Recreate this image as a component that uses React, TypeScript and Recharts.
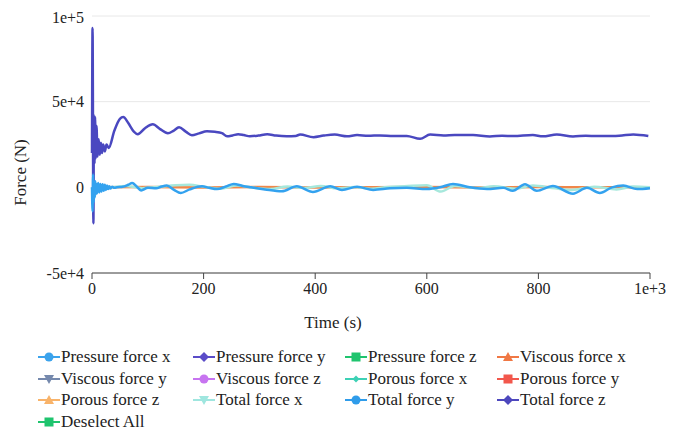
import { CartesianGrid, Line, LineChart, XAxis, YAxis } from "recharts";

// total force z (upper curve)
const timeZ = [
  0, 1, 2.5, 3.5, 4.5, 5.5, 6.5, 8, 10, 12, 14, 16, 18, 20, 23, 26, 30, 40, 50, 56, 65, 75,
  82, 95, 109, 122, 136, 146, 156, 168, 179, 192, 206, 220, 233, 242, 252, 262, 272, 283, 298, 314, 330,
  349, 365, 373, 397, 415, 435, 457, 475, 495, 516, 540, 564, 588, 606, 630, 650, 683, 713, 735, 755, 790,
  808, 833, 862, 885, 905, 934, 950, 970, 997,
];
const totalZ = [
  20000, 93000, -21000, 42000, 14000, 41000, 17000, 36000, 18000, 28000, 19000, 26000, 20000,
  25000, 21000, 25000, 23000, 33000, 40000, 41000, 37500, 32500, 31000, 34500, 36800, 34000, 31600, 33000,
  35100, 32500, 30400, 31500, 32700, 32400, 31600, 29800, 30300, 31000, 30500, 29800, 30200, 31000, 30200,
  29800, 30000, 30800, 29300, 30200, 30800, 29800, 30500, 30100, 30300, 30000, 30000, 28300, 30800, 30300,
  30600, 30500, 29700, 30100, 29900, 30500, 29800, 30800, 29700, 30100, 29900, 29900, 30300, 30800, 29900,
];

// total force y (blue, near zero)
const timeY = [
  0, 1, 2, 3, 4, 5, 6, 7, 8, 9, 11, 13, 15, 17, 19, 21, 23, 25, 27, 29, 31, 33, 36, 40, 45, 55, 65, 72, 80,
  88, 100, 115, 125, 134, 147, 159, 175, 197, 210, 224, 240, 254, 270, 285, 310, 340, 367, 396, 427, 448,
  475, 504, 534, 564, 600, 624, 647, 677, 708, 737, 754, 776, 797, 826, 862, 887, 910, 932, 952, 977, 1000,
];
const totalY = [
  0, -14000, 7500, -9000, 3000, -6000, 3500, -4000, 2000, -3500, 2500, -3000, 2000, -2500, 1800, -2000,
  1500, -1500, 1000, -1000, 700, -700, 400, -300, 0, 300, 1500, 2500, 500, -1800, -300, -600, 500, 1000,
  -1500, -3300, -1200, 600, -300, -1000, 500, 2000, 800, 0, -1200, -2300, 600, -2700, 600, -1500, 300,
  -1500, -600, -300, -1000, 0, 2000, 0, -1000, -300, -2000, 1800, -2000, 800, -3700, -300, -3300, 0, 1000,
  -1000, -500,
];

// total force x (pale, near zero)
const timeX = [
  0, 2, 4, 8, 15, 30, 60, 90, 120, 150, 175, 200, 230, 260, 290, 320, 350, 380, 410, 440, 470, 500, 530,
  560, 600, 625, 650, 690, 720, 760, 790, 830, 860, 900, 940, 970, 1000,
];
const totalX = [
  0, -5000, 2000, -1000, 500, 0, 800, -500, 300, 1200, 1500, 400, -800, 1000, -300, -1000, 500, -400, 800,
  -600, 200, -800, 200, 600, 1200, -2500, 800, -400, 600, -800, 1000, -600, -1500, 400, -1200, 500, 0,
];

// viscous force x (orange, flat)
const timeV = [0, 100, 200, 300, 400, 500, 600, 700, 800, 900, 1000];
const viscousX = [0, 200, -100, 200, -100, 100, 200, -100, 200, 0, 100];

const xTicks = [0, 200, 400, 600, 800, 1000];
const yTicks = [-50000, 0, 50000, 100000];

const legendNames = [
  "Pressure force x", "Pressure force y", "Pressure force z", "Viscous force x",
  "Viscous force y", "Viscous force z", "Porous force x", "Porous force y",
  "Porous force z", "Total force x", "Total force y", "Total force z", "Deselect All",
];
const legendColors = [
  "#3ba3ec", "#5a4cc8", "#1fc46e", "#f07844",
  "#7589ad", "#c774f0", "#3dd1b5", "#f2574c",
  "#f8b36a", "#9fe6df", "#2f9cea", "#4d47bd", "#1fc46e",
];
const legendShapes = [
  "circle", "diamond", "square", "triangle",
  "down", "circle", "smallDiamond", "square",
  "triangle", "down", "circle", "diamond", "square",
];

const serif = "'Liberation Serif', 'Times New Roman', serif";

const toRows = (ts: number[], vs: number[]) => ts.map((t, i) => ({ t, v: vs[i] }));

const fmt = (v: number) => (Math.abs(v) >= 1000 ? v.toExponential() : String(v));

const Marker = ({ shape, color }: { shape: string; color: string }) => {
  let mark;
  if (shape === "circle") mark = <circle cx={11} cy={6} r={4.5} fill={color} />;
  else if (shape === "diamond") mark = <polygon points="11,1 16,6 11,11 6,6" fill={color} />;
  else if (shape === "smallDiamond") mark = <polygon points="11,2.5 14.5,6 11,9.5 7.5,6" fill={color} />;
  else if (shape === "square") mark = <rect x={6.5} y={1.5} width={9} height={9} fill={color} />;
  else if (shape === "triangle") mark = <polygon points="11,1 16,10 6,10" fill={color} />;
  else mark = <polygon points="11,11 16,2 6,2" fill={color} />;
  return (
    <svg width={22} height={12} style={{ marginRight: 1, flexShrink: 0 }}>
      <line x1={0} y1={6} x2={22} y2={6} stroke={color} strokeWidth={2} />
      {mark}
    </svg>
  );
};

const App = () => {
  return (
    <div style={{ fontFamily: serif, width: 658 }}>
      <LineChart
        width={658}
        height={330}
        margin={{ top: 8, right: 16, left: 10, bottom: 5 }}
        style={{ fontFamily: serif }}
      >
        <CartesianGrid vertical={false} stroke="#e8e8e8" />
        <XAxis
          dataKey="t"
          type="number"
          domain={[0, 1000]}
          ticks={xTicks}
          tickFormatter={fmt}
          height={60}
          stroke="#444"
          tick={{ fill: "#222", fontSize: 16, fontFamily: serif }}
          tickMargin={4}
          label={{
            content: ({ viewBox }: any) => (
              <text
                x={viewBox.x + viewBox.width / 2 - 38}
                y={viewBox.y + 55}
                textAnchor="middle"
                fontSize={17}
                fontFamily={serif}
                fill="#222"
              >
                Time (s)
              </text>
            ),
          }}
        />
        <YAxis
          type="number"
          domain={[-50000, 100000]}
          ticks={yTicks}
          tickFormatter={fmt}
          width={74}
          axisLine={false}
          tickLine={false}
          tick={{ fill: "#222", fontSize: 16, fontFamily: serif }}
          label={{
            content: ({ viewBox }: any) => {
              const cx = viewBox.x + 2;
              const cy = viewBox.y + viewBox.height / 2 + 28;
              return (
                <text
                  x={cx}
                  y={cy}
                  transform={`rotate(-90 ${cx} ${cy})`}
                  textAnchor="middle"
                  dominantBaseline="central"
                  fontSize={17}
                  fontFamily={serif}
                  fill="#222"
                >
                  Force (N)
                </text>
              );
            },
          }}
        />
        <Line data={toRows(timeV, viscousX)} dataKey="v" type="monotone" stroke="#f0874a" strokeWidth={2.5} dot={false} isAnimationActive={false} />
        <Line data={toRows(timeX, totalX)} dataKey="v" type="monotone" stroke="#a6e8dc" strokeWidth={2.5} dot={false} isAnimationActive={false} />
        <Line data={toRows(timeZ, totalZ)} dataKey="v" type="monotone" stroke="#4a48c0" strokeWidth={2.5} dot={false} isAnimationActive={false} />
        <Line data={toRows(timeY, totalY)} dataKey="v" type="monotone" stroke="#33a2ef" strokeWidth={2.5} dot={false} isAnimationActive={false} />
      </LineChart>
      <div
        style={{
          display: "grid",
          gridTemplateColumns: "155px 152px 152px 152px",
          paddingLeft: 30,
          marginTop: 8,
          fontSize: 17,
          color: "#222",
        }}
      >
        {legendNames.map((name, i) => (
          <div key={name} style={{ display: "flex", alignItems: "center", height: 21.7, whiteSpace: "nowrap" }}>
            <Marker shape={legendShapes[i]} color={legendColors[i]} />
            {name}
          </div>
        ))}
      </div>
    </div>
  );
};

export default App;
